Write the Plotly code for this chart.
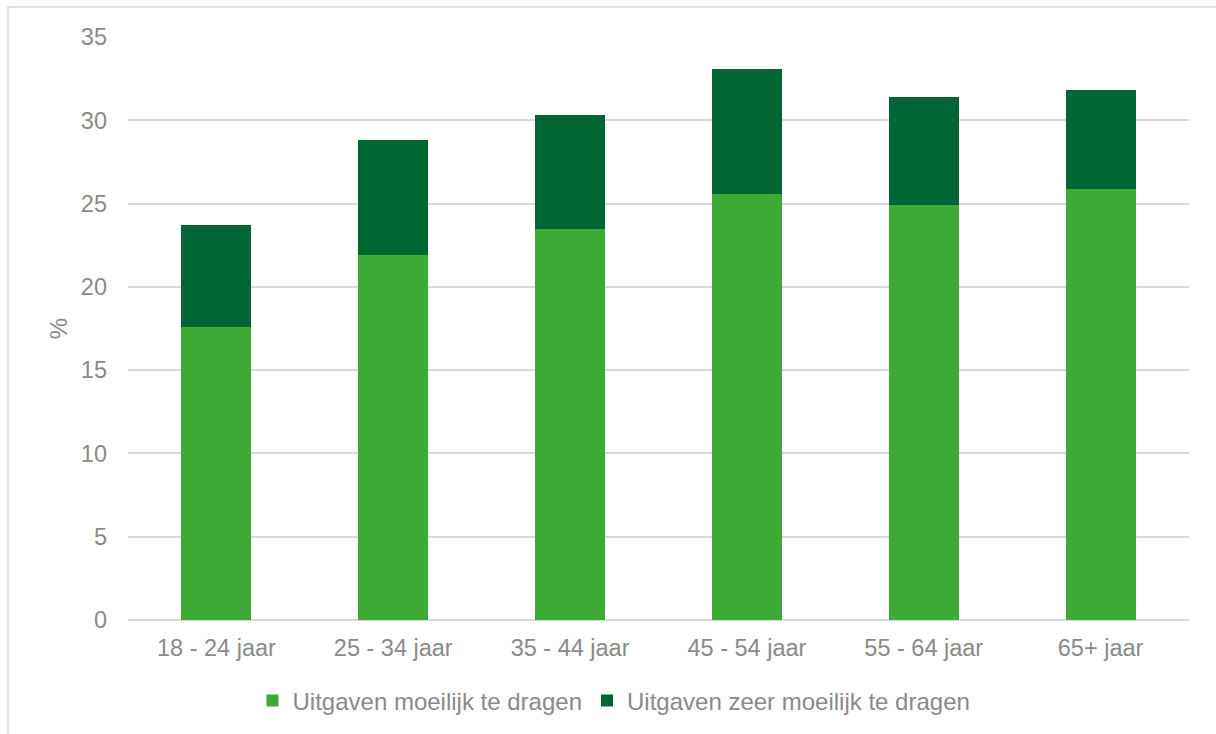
import plotly.graph_objects as go

# Leeftijdsgroepen en aandeel (%) per categorie
age_groups = ["18 - 24 jaar", "25 - 34 jaar", "35 - 44 jaar", "45 - 54 jaar", "55 - 64 jaar", "65+ jaar"]
moeilijk = [17.6, 21.9, 23.5, 25.6, 24.9, 25.9]
zeer_moeilijk = [6.1, 6.9, 6.8, 7.5, 6.5, 5.9]

y_ticks = [0, 5, 10, 15, 20, 25, 30, 35]

LIGHT = "#3daa35"
DARK = "#006633"
TEXT = "#8a8a8a"
GRID = "#d9d9d9"
FONT = "Liberation Sans, Arial, sans-serif"

fig = go.Figure()
fig.add_trace(go.Bar(
    x=age_groups, y=moeilijk, name="Uitgaven moeilijk te dragen",
    marker=dict(color=LIGHT, line=dict(width=0)),
))
fig.add_trace(go.Bar(
    x=age_groups, y=zeer_moeilijk, name="Uitgaven zeer moeilijk te dragen",
    marker=dict(color=DARK, line=dict(width=0)),
))

W, H = 1216, 734
ml, mr, mt, mb = 128, 27, 37, 113
pw, ph = W - ml - mr, H - mt - mb

def px_to_paper_x(px):
    return (px - ml) / pw

def px_to_paper_y(py):
    return (H - mb - py) / ph

fig.update_layout(
    width=W, height=H,
    margin=dict(l=ml, r=mr, t=mt, b=mb),
    barmode="stack",
    bargap=0.604,
    plot_bgcolor="white",
    paper_bgcolor="white",
    font=dict(family=FONT, color=TEXT, size=23),
    showlegend=True,
    legend=dict(
        orientation="h",
        x=px_to_paper_x(614), xanchor="center",
        y=px_to_paper_y(701), yanchor="middle",
        font=dict(size=24, color=TEXT),
        traceorder="normal",
        itemwidth=30,
    ),
    shapes=[dict(
        type="rect", xref="paper", yref="paper",
        x0=px_to_paper_x(8), x1=px_to_paper_x(1230),
        y0=px_to_paper_y(750), y1=px_to_paper_y(7),
        line=dict(color=GRID, width=1.5), fillcolor="rgba(0,0,0,0)", layer="below",
    )],
)

fig.update_xaxes(
    showgrid=False, showline=False, zeroline=False,
    tickfont=dict(size=23.5, color=TEXT),
    ticks="", ticklabelstandoff=11,
)
fig.update_yaxes(
    range=[0, 35], tickvals=y_ticks,
    showgrid=True, gridcolor=GRID, gridwidth=1.5,
    zeroline=True, zerolinecolor=GRID, zerolinewidth=1.5,
    showline=False, ticks="",
    tickfont=dict(size=23.5, color=TEXT),
    ticklabelstandoff=20,
    title=dict(text="%", font=dict(size=24, color=TEXT), standoff=6),
)

fig.write_html("out.html")
